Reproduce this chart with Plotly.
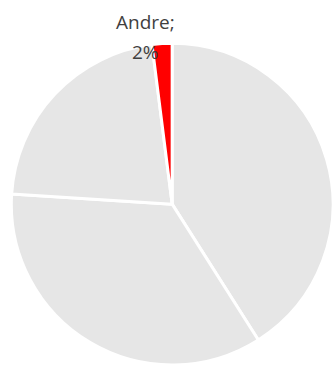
import plotly.graph_objects as go

labels = ["A", "B", "C", "Andre"]
values = [41, 35, 22, 2]
colors = ["#E6E6E6", "#E6E6E6", "#E6E6E6", "#FF0000"]

fig = go.Figure(go.Pie(
    labels=labels, values=values, sort=False, direction="clockwise", rotation=0,
    marker=dict(colors=colors, line=dict(color="white", width=3)),
    textinfo="none", hoverinfo="label+percent",
    domain=dict(x=[0.034, 1.0], y=[0.0, 0.8814]),
    showlegend=False,
))

fig.add_annotation(text="Andre;", x=145, y=365-22, xref="x", yref="y", showarrow=False,
                   font=dict(family="Open Sans", size=19, color="#404040"))
fig.add_annotation(text="2%", x=145, y=365-52, xref="x", yref="y", showarrow=False,
                   font=dict(family="Open Sans", size=19, color="#404040"))

fig.update_layout(
    width=333, height=365, margin=dict(l=0, r=0, t=0, b=0),
    paper_bgcolor="white", plot_bgcolor="rgba(0,0,0,0)",
    xaxis=dict(range=[0, 333], visible=False, fixedrange=True),
    yaxis=dict(range=[0, 365], visible=False, fixedrange=True),
)
fig.write_html("out.html")
